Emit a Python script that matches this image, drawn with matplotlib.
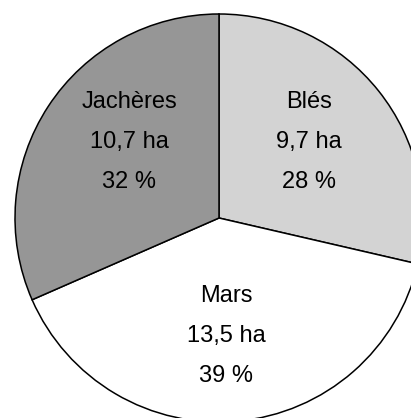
import matplotlib.pyplot as plt

# Surfaces par type de sole
cultures = ["Blés", "Mars", "Jachères"]
surfaces = [9.7, 13.5, 10.7]
pourcentages = [28, 39, 32]
couleurs = ["#d3d3d3", "#ffffff", "#969696"]

W, H = 411, 418
fig = plt.figure(figsize=(W / 100, H / 100), dpi=100)

# Pie centre (219, 218) px, radius 204 px; it runs past the right and bottom edges
cx, cy, r = 219, 218, 204
ax = fig.add_axes([(cx - r) / W, (H - cy - r) / H, 2 * r / W, 2 * r / H])
ax.pie(surfaces, colors=couleurs, startangle=90, counterclock=False,
       wedgeprops=dict(edgecolor="black", linewidth=1.1))
ax.set_xlim(-1, 1)
ax.set_ylim(-1, 1)
ax.set_aspect("auto")
ax.axis("off")

# label block centres in pixels
positions = {"Blés": (309, 102), "Mars": (226, 296), "Jachères": (129, 102)}
for nom, surf, pct in zip(cultures, surfaces, pourcentages):
    px, py = positions[nom]
    lignes = [nom, f"{surf:.1f}".replace(".", ",") + " ha", f"{pct} %"]
    for i, txt in enumerate(lignes):
        ax.text((px - cx) / r, (cy - py - 40 * i) / r, txt,
                ha="center", va="center", fontsize=17,
                family="Liberation Sans")

fig.savefig("out.png", dpi=100)
